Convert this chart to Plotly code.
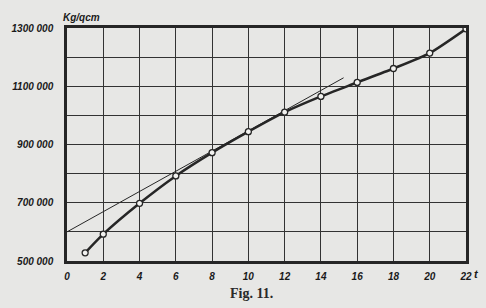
import plotly.graph_objects as go

# Data
t_vals = [1, 2, 4, 6, 8, 10, 12, 14, 16, 18, 20, 22]
kg_qcm = [528000, 592000, 698000, 792000, 872000, 944000, 1011000,
          1065000, 1113000, 1161000, 1214000, 1297000]
tangent_t = [0, 15.25]
tangent_v = [600000, 1129000]

x_ticks = [0, 2, 4, 6, 8, 10, 12, 14, 16, 18, 20, 22]
x_ticklabels = ["0", "2", "4", "6", "8", "10", "12", "14", "16", "18", "20", "22"]
y_ticks = [500000, 600000, 700000, 800000, 900000, 1000000, 1100000, 1200000, 1300000]
y_ticklabels = ["500 000", "", "700 000", "", "900 000", "", "1100 000", "", "1300 000"]

bg = "#e7e7e5"
ink = "#262626"

fig = go.Figure()
fig.add_trace(go.Scatter(x=tangent_t, y=tangent_v, mode="lines",
                         line=dict(color=ink, width=1), hoverinfo="skip"))
fig.add_trace(go.Scatter(x=t_vals, y=kg_qcm, mode="lines+markers",
                         line=dict(color=ink, width=2.5, shape="spline", smoothing=0.6),
                         marker=dict(symbol="circle", size=6, color="#f2f2f0",
                                     line=dict(color=ink, width=1.3))))

tickfont = dict(family="Liberation Sans, Arial, sans-serif", size=10, color="#1a1a1a",
                style="italic", weight="bold")
fig.update_layout(
    width=486, height=308,
    margin=dict(l=57, r=20, t=28, b=47),
    paper_bgcolor=bg, plot_bgcolor=bg,
    showlegend=False,
    xaxis=dict(range=[0, 22], tickvals=x_ticks, ticktext=x_ticklabels,
               showgrid=True, gridcolor="#333333", gridwidth=1.4,
               showline=True, linecolor=ink, linewidth=2.5, mirror=True,
               zeroline=False, ticks="", tickfont=tickfont, ticklabelstandoff=4),
    yaxis=dict(range=[500000, 1300000], tickvals=y_ticks, ticktext=y_ticklabels,
               showgrid=True, gridcolor="#333333", gridwidth=1.4,
               showline=True, linecolor=ink, linewidth=2.5, mirror=True,
               zeroline=False, ticks="", tickfont=tickfont, ticklabelstandoff=9),
    annotations=[
        dict(text="Kg/qcm", x=0, y=1, xref="paper", yref="paper",
             xanchor="left", yanchor="bottom", xshift=-6, yshift=3, showarrow=False,
             font=dict(family="Liberation Sans, Arial, sans-serif", size=10,
                       color="#1a1a1a", style="italic", weight="bold")),
        dict(text="t", x=1, y=0, xref="paper", yref="paper",
             xanchor="left", yanchor="top", xshift=6, yshift=-5, showarrow=False,
             font=dict(family="Liberation Sans, Arial, sans-serif", size=11,
                       color="#1a1a1a", style="italic", weight="bold")),
        dict(text="Fig. 11.", x=0.462, y=0, xref="paper", yref="paper",
             xanchor="center", yanchor="top", yshift=-23, showarrow=False,
             font=dict(family="Liberation Serif, Times New Roman, serif", size=14,
                       color="#2a2a2a", weight="bold")),
    ],
)

fig.write_html("out.html")
